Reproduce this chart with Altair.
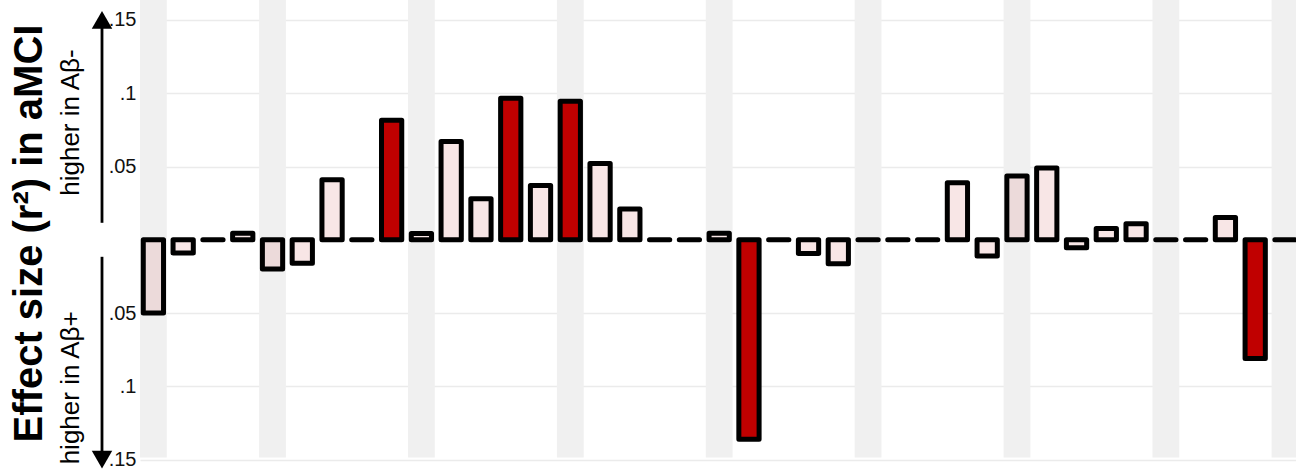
import altair as alt
import pandas as pd

# Effect sizes per measure (positive: higher in Abeta-, negative: higher in Abeta+)
bar_index = list(range(1, 40))
effect = [
    -0.050, -0.009, 0.0, 0.0045, -0.020, -0.016, 0.041, 0.0, 0.0815, 0.0043,
    0.067, 0.028, 0.0965, 0.037, 0.0945, 0.052, 0.021, 0.0, 0.0, 0.0045,
    -0.136, 0.0, -0.0093, -0.0164, 0.0, 0.0, 0.0, 0.039, -0.011, 0.0435,
    0.049, -0.0055, 0.0077, 0.011, 0.0, 0.0, 0.0152, -0.081, 0.0,
]
# significance level of each effect
level = [
    "trend", "ns", "ns", "ns", "trend", "ns", "ns", "ns", "sig", "ns",
    "ns", "ns", "sig", "ns", "sig", "ns", "ns", "ns", "ns", "ns",
    "sig", "ns", "ns", "ns", "ns", "ns", "ns", "ns", "ns", "trend",
    "ns", "ns", "ns", "ns", "ns", "ns", "ns", "sig", "ns",
]
# shaded columns
band_index = [1, 5, 10, 15, 20, 25, 30, 35, 39]
tick_values = [-0.15, -0.1, -0.05, 0.05, 0.1, 0.15]

# arrows along the y axis and their captions
arrow_from = [0.15, -0.0116]
arrow_to = [0.0116, -0.15]
head_y = [0.15, -0.15]
head_dir = ["up", "down"]
caption_y = [0.080, -0.101]
caption_text = ["higher in Aβ-", "higher in Aβ+"]

Y_DOMAIN = [-0.155, 0.1636]
X_DOMAIN = [0.55, 39.37]
BAND_BOTTOM = -0.1486
FONT = "Liberation Sans"

x_scale = alt.Scale(domain=X_DOMAIN, nice=False, zero=False)
y_scale = alt.Scale(domain=Y_DOMAIN, nice=False, zero=False)

bars_df = pd.DataFrame({"i": bar_index, "r2": effect, "level": level})
bars_df["x0"] = bars_df["i"] - 0.34
bars_df["x1"] = bars_df["i"] + 0.34
bars_df["base"] = 0.0

bands_df = pd.DataFrame({"i": band_index})
bands_df["x0"] = bands_df["i"] - 0.45
bands_df["x1"] = bands_df["i"] + 0.45
bands_df["top"] = Y_DOMAIN[1]
bands_df["bottom"] = BAND_BOTTOM

arrows_df = pd.DataFrame({"y0": arrow_from, "y1": arrow_to})
heads_df = pd.DataFrame({"y": head_y, "dir": head_dir})
captions_df = pd.DataFrame({"y": caption_y, "label": caption_text})

y_axis = alt.Axis(
    values=tick_values,
    labelExpr="replace(format(abs(datum.value), '.2~f'), '0.', '.')",
    grid=True,
    gridColor="#EBEBEB",
    gridWidth=1.5,
    domain=False,
    ticks=False,
    labelFont=FONT,
    labelFontSize=20,
    labelColor="#111111",
    labelPadding=4,
    title="Effect size (r²) in aMCI",
    titleFont=FONT,
    titleFontSize=40,
    titleFontWeight="bold",
    titleColor="#000000",
    titleAngle=270,
    titleAlign="center",
    titleBaseline="middle",
    titleX=-111,
    titleY=233,
)

bands = alt.Chart(bands_df).mark_rect(color="#F0F0F0").encode(
    x=alt.X("x0:Q", scale=x_scale, axis=None),
    x2="x1",
    y=alt.Y("top:Q", scale=y_scale, axis=y_axis),
    y2="bottom",
)

bars = alt.Chart(bars_df).mark_rect(
    stroke="black", strokeWidth=5, strokeJoin="round"
).encode(
    x=alt.X("x0:Q", scale=x_scale),
    x2="x1",
    y=alt.Y("r2:Q", scale=y_scale),
    y2="base",
    fill=alt.Fill(
        "level:N",
        scale=alt.Scale(
            domain=["sig", "trend", "ns"],
            range=["#C00000", "#ECDADA", "#F8E6E6"],
        ),
        legend=None,
    ),
)

arrows = alt.Chart(arrows_df).mark_rule(color="black", strokeWidth=2.8).encode(
    x=alt.value(-38),
    y=alt.Y("y0:Q", scale=y_scale),
    y2="y1",
)

heads = alt.Chart(heads_df).mark_point(
    filled=True, size=420, color="black", opacity=1
).encode(
    x=alt.value(-38),
    y=alt.Y("y:Q", scale=y_scale),
    shape=alt.Shape(
        "dir:N",
        scale=alt.Scale(domain=["up", "down"], range=["triangle-up", "triangle-down"]),
        legend=None,
    ),
)

captions = alt.Chart(captions_df).mark_text(
    angle=270, font=FONT, fontSize=26, color="black", align="center", baseline="middle"
).encode(
    x=alt.value(-69),
    y=alt.Y("y:Q", scale=y_scale),
    text="label:N",
)

chart = (
    alt.layer(bands, bars, arrows, heads, captions)
    .properties(
        width=1156,
        height=467,
        autosize=alt.AutoSizeParams(type="none"),
        padding={"left": 140, "top": 0, "right": 0, "bottom": 4},
        background="white",
    )
    .configure_view(stroke=None)
)

chart.save("out.html", embed_options={"renderer": "svg", "actions": False})
